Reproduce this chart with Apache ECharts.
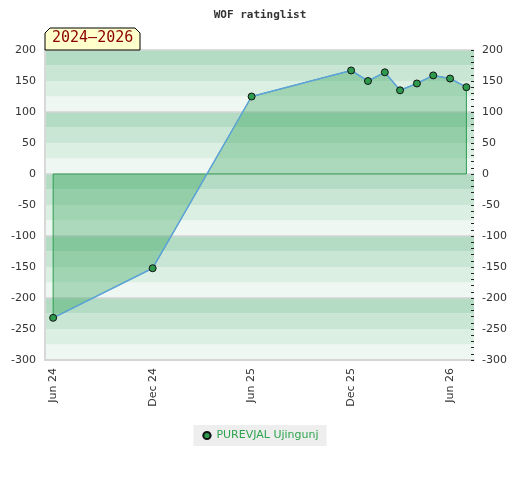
<!DOCTYPE html>
<html><head><meta charset="utf-8">
<script src="https://cdn.jsdelivr.net/npm/echarts@6/dist/echarts.min.js"></script>
<style>html,body{margin:0;padding:0;background:#fff}#c{width:520px;height:480px}</style>
</head><body><div id="c"></div>
<script>
const titleText = 'WOF ratinglist';
const periodText = '2024–2026';
const seriesName = 'PUREVJAL Ujingunj';
const dates = ['2024-06-01','2024-12-01','2025-06-01','2025-12-01','2026-01-01','2026-02-01','2026-03-01','2026-04-01','2026-05-01','2026-06-01','2026-07-01'];
const values = [-232, -152, 125, 167, 150, 164, 135, 146, 159, 154, 140];
const tickDates = ['2024-06-01','2024-12-01','2025-06-01','2025-12-01','2026-06-01'];
const tickLabels = ['Jun 24','Dec 24','Jun 25','Dec 25','Jun 26'];
const xMinDate = '2024-05-17';
const xMaxDate = '2026-07-15';
const yMin = -300, yMax = 200;

const ts = s => { const [y,m,d] = s.split('-').map(Number); return Date.UTC(y, m-1, d); };
const points = dates.map((d,i) => [ts(d), values[i]]);
const outline = [[ts(dates[0]), 0]].concat(points, [[ts(dates[dates.length-1]), 0], [ts(dates[0]), 0]]);
const tickTs = tickDates.map(ts);
const labelMap = {}; tickTs.forEach((t,i)=>labelMap[t]=tickLabels[i]);

const chart = echarts.init(document.getElementById('c'), null, {renderer:'canvas'});
const font = 'DejaVu Sans';
const hiddenParts = { axisLine: {show:false}, axisTick: {show:false}, axisLabel: {show:false} };
chart.setOption({
  animation: false,
  backgroundColor: '#fff',
  title: { text: titleText, left: 'center', top: 5,
    textStyle: { fontFamily: 'DejaVu Sans Mono', fontSize: 11, fontWeight: 'bold', color: '#333' } },
  graphic: [
    { type: 'polygon', z: 100,
      shape: { points: [[45,50],[45,33],[50,28],[135,28],[140,33],[140,50]] },
      style: { fill: '#ffffcc', stroke: '#000', lineWidth: 1 } },
    { type: 'text', z: 101, left: 52, top: 31,
      style: { text: periodText, fill: '#8b0000', font: '15px "DejaVu Sans Mono"' } }
  ],
  grid: { left: 45, right: 46, top: 50, bottom: 120, containLabel: false },
  legend: { data: [seriesName], bottom: 34, left: 'center', backgroundColor: '#eeeeee',
    padding: [5, 8, 5, 8], itemWidth: 9, itemHeight: 9, itemGap: 6,
    textStyle: { color: '#2ea44f', fontFamily: font, fontSize: 11 } },
  xAxis: [{
    type: 'value', min: ts(xMinDate), max: ts(xMaxDate),
    axisLine: { show: true, onZero: false, lineStyle: { color: '#d8d8d8', width: 2 } },
    axisTick: { show: false },
    splitLine: { show: false },
    axisLabel: { customValues: tickTs, rotate: 90, margin: 8, color: '#333',
      fontFamily: font, fontSize: 11, formatter: v => labelMap[v] || '' }
  }],
  yAxis: [
    { type: 'value', min: yMin, max: yMax, interval: 50, position: 'left', z: 5,
      axisLine: { show: true, lineStyle: { color: '#d8d8d8', width: 2 } },
      axisTick: { show: false }, splitLine: { show: false },
      axisLabel: { color: '#333', fontFamily: font, fontSize: 11, margin: 9 } },
    { type: 'value', min: yMin, max: yMax, interval: 50, position: 'right', z: 5,
      axisLine: { show: false },
      axisTick: { show: true, inside: true, length: 3, lineStyle: { color: '#222' } },
      minorTick: { show: true, splitNumber: 5, length: 3, lineStyle: { color: '#222' } },
      splitLine: { show: false },
      axisLabel: { color: '#333', fontFamily: font, fontSize: 11, margin: 8 } },
    Object.assign({ type: 'value', min: yMin, max: yMax, interval: 25, position: 'left', z: 0,
      splitArea: { show: true, areaStyle: { color: ['#eef7f1','#dcefe3','#c9e6d4','#b4dcc4'] } },
      splitLine: { show: false } }, hiddenParts),
    Object.assign({ type: 'value', min: yMin, max: yMax, interval: 100, position: 'left', z: 1,
      splitLine: { show: true, lineStyle: { color: '#d4d4d4', width: 1.5 } } }, hiddenParts)
  ],
  series: [
    { type: 'line', name: 'outline', data: outline, yAxisIndex: 0, symbol: 'none',
      lineStyle: { color: '#2e9e50', width: 1 }, silent: true, z: 2 },
    { type: 'line', name: seriesName, data: points, yAxisIndex: 0,
      symbol: 'circle', symbolSize: 7,
      itemStyle: { color: '#2e9a4e', borderColor: '#111', borderWidth: 1 },
      lineStyle: { color: '#5fa3dc', width: 1.5 },
      areaStyle: { color: 'rgba(30,155,75,0.45)' }, z: 3 }
  ]
});
</script></body></html>
